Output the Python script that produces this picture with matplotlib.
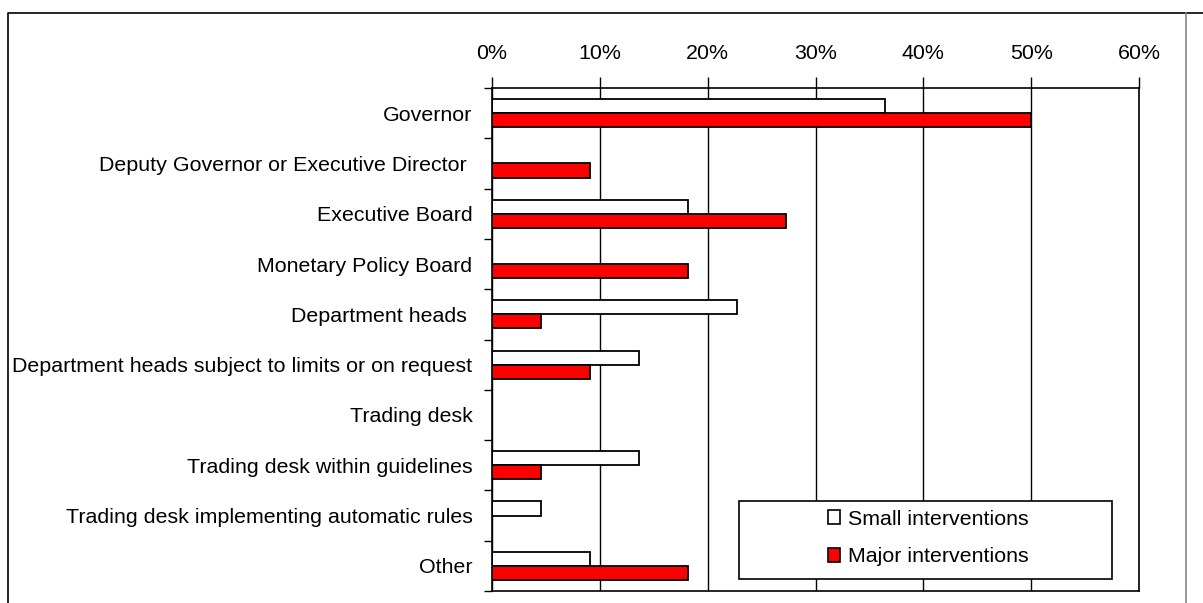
import numpy as np
import matplotlib
matplotlib.use("Agg")
import matplotlib.pyplot as plt
from matplotlib.lines import Line2D
from matplotlib.patches import Rectangle, Patch

categories = [
    "Governor",
    "Deputy Governor or Executive Director ",
    "Executive Board",
    "Monetary Policy Board",
    "Department heads ",
    "Department heads subject to limits or on request",
    "Trading desk",
    "Trading desk within guidelines",
    "Trading desk implementing automatic rules",
    "Other",
]
small = [36.4, 0, 18.2, 0, 22.7, 13.6, 0, 13.6, 4.5, 9.1]
major = [50.0, 9.1, 27.3, 18.2, 4.5, 9.1, 0, 4.5, 0, 18.2]
xticks = [0, 10, 20, 30, 40, 50, 60]

plt.rcParams['font.family'] = ['Liberation Sans', 'DejaVu Sans']

W, H = 1203, 603
fig = plt.figure(figsize=(W / 100, H / 100), dpi=100)
ax = fig.add_axes([492 / W, 1 - 591 / H, (1139 - 492) / W, (591 - 88) / H])

y = np.arange(len(categories))
bh = 0.28
ax.barh(y - bh / 2, small, height=bh, color='white', edgecolor='black', linewidth=1.3)
ax.barh(y + bh / 2, major, height=bh, color='#ff0000', edgecolor='black', linewidth=1.3)

ax.set_xlim(0, 60)
ax.set_ylim(len(categories) - 0.5, -0.5)
ax.xaxis.tick_top()
ax.set_xticks(xticks)
ax.set_xticklabels([f"{v}%" for v in xticks], fontsize=15.4)
ax.tick_params(axis='x', direction='out', length=8, width=1, pad=10)
ax.set_yticks(y)
ax.set_yticklabels(categories, fontsize=15.4)
ax.tick_params(axis='y', which='major', length=0, pad=14)
ax.set_yticks(np.arange(len(categories) + 1) - 0.5, minor=True)
ax.tick_params(axis='y', which='minor', direction='out', length=6, width=1)
ax.grid(axis='x', color='black', linewidth=1)
ax.set_axisbelow(True)
for s in ax.spines.values():
    s.set_color('black')
    s.set_linewidth(1.2)

# legend with its own frame
fig.add_artist(Rectangle((739 / W, 1 - 579 / H), (1112 - 739) / W, 78 / H,
                         transform=fig.transFigure, facecolor='white',
                         edgecolor='black', linewidth=1.2, zorder=5))
handles = [Patch(facecolor='white', edgecolor='black', linewidth=1.2),
           Patch(facecolor='#ff0000', edgecolor='black', linewidth=1.2)]
leg = fig.legend(handles, ["Small interventions", "Major interventions"],
                 loc='center', bbox_to_anchor=(928 / W, 1 - 538 / H),
                 frameon=False, fontsize=15.4, handlelength=0.6, handleheight=0.6,
                 handletextpad=0.35, labelspacing=0.88)
leg.set_zorder(6)

# outer frame
fig.add_artist(Line2D([8 / W, 8 / W, 1], [0, 1 - 13 / H, 1 - 13 / H],
                      transform=fig.transFigure, color='black', linewidth=1.2))
fig.add_artist(Line2D([1186 / W, 1186 / W], [0, 1 - 13 / H],
                      transform=fig.transFigure, color='#888888', linewidth=1.2))

fig.savefig("out.png", dpi=100)
